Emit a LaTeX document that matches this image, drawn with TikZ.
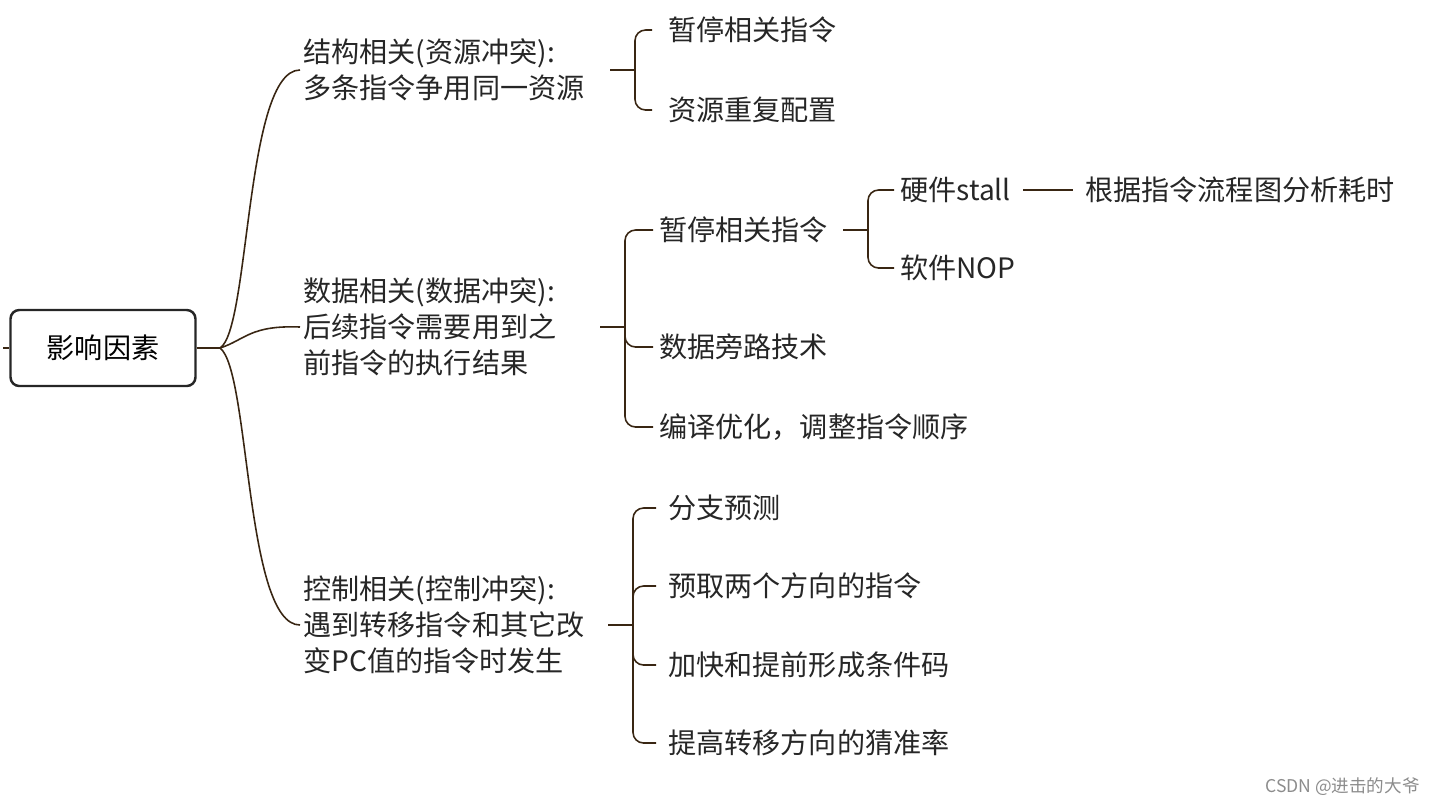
\documentclass[tikz,border=0pt]{standalone}
\usepackage{fontspec}
\newfontfamily\cjk{Noto Sans CJK SC}
\begin{document}
\begin{tikzpicture}[x=0.02cm,y=-0.02cm,
  txt/.style={anchor=west,inner sep=0pt,align=left,font=\cjk\fontsize{16pt}{20.5pt}\selectfont,text=black!85},
  ln/.style={draw=black!70!brown,line width=0.9pt},
  br/.style={ln,rounded corners=6pt}]
\useasboundingbox (0,0) rectangle (1435,806);
\node[draw=black!85,line width=1.4pt,rounded corners=5pt,minimum width=185*0.02cm,minimum height=76*0.02cm,font=\cjk\fontsize{16pt}{20pt}\selectfont] (root) at (103,348) {影响因素};
\coordinate (rl) at (3,348);
\draw[ln] (rl) -- (root.west);
\coordinate (R) at (220,348);
\draw[ln] (root.east) -- (R);
% level 1
\node[txt] (s) at (303,70) {结构相关(资源冲突):\\多条指令争用同一资源};
\node[txt] (d) at (303,327) {数据相关(数据冲突):\\后续指令需要用到之\\前指令的执行结果};
\node[txt] (c) at (303,625) {控制相关(控制冲突):\\遇到转移指令和其它改\\变PC值的指令时发生};
\draw[ln] (R) .. controls (250,330) and (245,70) .. ([xshift=-3*0.02cm]s.west);
\draw[ln] (R) .. controls (245,340) and (250,325) .. ([xshift=-3*0.02cm]d.west);
\draw[ln] (R) .. controls (250,370) and (245,625) .. ([xshift=-3*0.02cm]c.west);
% structural
\coordinate (sj) at (635,70);
\draw[ln] (610,70) coordinate (s0) -- (sj);
\node[txt] (s1) at (668,30) {暂停相关指令};
\node[txt] (s2) at (668,110) {资源重复配置};
\foreach \n in {s1,s2} \draw[br] (sj) |- ([xshift=-16*0.02cm]\n.west);
% data
\coordinate (dj) at (625,327);
\draw[ln] (600,327) coordinate (d0) -- (dj);
\node[txt] (d1) at (659,230) {暂停相关指令};
\node[txt] (d2) at (659,347) {数据旁路技术};
\node[txt] (d3) at (659,427) {编译优化，调整指令顺序};
\foreach \n in {d1,d2,d3} \draw[br] (dj) |- ([xshift=-6*0.02cm]\n.west);
\coordinate (ej) at (868,230);
\draw[ln] (843,230) coordinate (e0) -- (ej);
\node[txt] (e1) at (900,190) {硬件stall};
\node[txt] (e2) at (900,268) {软件NOP};
\foreach \n in {e1,e2} \draw[br] (ej) |- ([xshift=-6*0.02cm]\n.west);
\node[txt] (e3) at (1085,190) {根据指令流程图分析耗时};
\draw[ln] ([xshift=12*0.02cm]e1.east) -- ([xshift=-12*0.02cm]e3.west);
% control
\coordinate (cj) at (633,625);
\draw[ln] (608,625) coordinate (c0) -- (cj);
\node[txt] (c1) at (668,508) {分支预测};
\node[txt] (c2) at (668,586) {预取两个方向的指令};
\node[txt] (c3) at (668,665) {加快和提前形成条件码};
\node[txt] (c4) at (668,743) {提高转移方向的猜准率};
\foreach \n in {c1,c2,c3,c4} \draw[br] (cj) |- ([xshift=-12*0.02cm]\n.west);
\node[anchor=east,inner sep=0pt,text=black!45,font=\cjk\fontsize{10pt}{12pt}\selectfont] (wm) at (1420,787) {CSDN @进击的大爷};
\end{tikzpicture}
\end{document}
